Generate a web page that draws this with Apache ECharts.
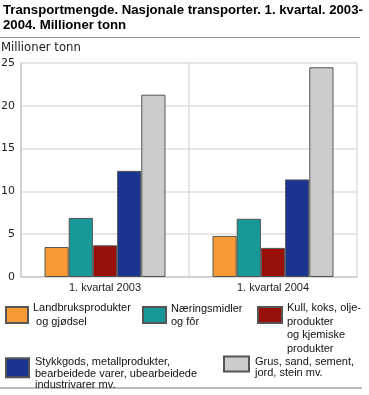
<!DOCTYPE html>
<html><head><meta charset="utf-8">
<script src="https://cdn.jsdelivr.net/npm/echarts@6/dist/echarts.min.js"></script>
<style>html,body{margin:0;padding:0;background:#fff}#c{width:369px;height:395px}</style>
</head><body><div id="c"></div>
<script>
const categories = ['1. kvartal 2003', '1. kvartal 2004'];
const seriesNames = ['Landbruksprodukter\n og gjødsel', 'Næringsmidler\nog fôr', 'Kull, koks, olje-\nprodukter\nog kjemiske\nprodukter', 'Stykkgods, metallprodukter,\nbearbeidede varer, ubearbeidede\nindustrivarer mv.', 'Grus, sand, sement,\njord, stein mv.'];
const landbruk = [3.5, 4.8];
const naering = [6.9, 6.8];
const kull = [3.7, 3.4];
const stykkgods = [12.4, 11.4];
const grus = [21.3, 24.5];
const yTicks = [0, 5, 10, 15, 20, 25];
const colors = ['#F79A35', '#19989A', '#990F0A', '#1A3490', '#CCCCCC'];

const values = [landbruk, naering, kull, stykkgods, grus];
const font = 'Liberation Sans';
// shift: extra space above text (px) so text sits lower than icon centre
const legendCfg = [
  {left: 5, top: 301, w: 22, h: 16, lh: 14, padL: 0, shift: 0},
  {left: 142, top: 302, w: 23, h: 16, lh: 13, padL: 0, shift: 0},
  {left: 257, top: 274.5, w: 24, h: 16, lh: 13.5, padL: 0, shift: 27},
  {left: 5, top: 344.5, w: 23, h: 19, lh: 11.7, padL: 1, shift: 11.6},
  {left: 223, top: 348.8, w: 25, h: 15, lh: 11.7, padL: 1, shift: 7}
];
const chart = echarts.init(document.getElementById('c'));
chart.setOption({
  animation: false,
  textStyle: {fontFamily: font},
  title: {
    text: 'Transportmengde. Nasjonale transporter. 1. kvartal. 2003-\n2004. Millioner tonn',
    left: 3, top: 3, padding: 0,
    textStyle: {fontFamily: font, fontSize: 13.2, fontWeight: 'bold', color: '#000', lineHeight: 15}
  },
  graphic: [
    {type: 'line', shape: {x1: 0, y1: 37.5, x2: 360, y2: 37.5}, style: {stroke: '#999', lineWidth: 1}},
    {type: 'line', shape: {x1: 0, y1: 388, x2: 362, y2: 388}, style: {stroke: '#bbb', lineWidth: 2}},
    {type: 'text', left: 1, top: 42, style: {text: 'Millioner tonn', font: '11.7px DejaVu Sans', fill: '#222'}}
  ],
  legend: seriesNames.map((n, i) => {
    const c = legendCfg[i];
    const rich = {
      s: {lineHeight: c.shift || 1, fontSize: 1},
      t: {fontFamily: font, fontSize: 11, color: '#111', lineHeight: c.lh, padding: [0, 0, 0, c.padL]}
    };
    return {
      data: [n], left: c.left, top: c.top, padding: 0,
      itemWidth: c.w, itemHeight: c.h, itemGap: 0, selectedMode: false,
      icon: 'rect',
      formatter: name => {
        const lines = name.split('\n').map(l => '{t|' + l + '}');
        return (c.shift ? '{s| }\n' : '') + lines.join('\n');
      },
      textStyle: {fontFamily: font, fontSize: 11, color: '#111', lineHeight: c.lh, rich: rich}
    };
  }),
  grid: {left: 21, right: 12, top: 63, bottom: 118, outerBoundsMode: 'none'},
  xAxis: {
    type: 'category', data: categories,
    axisLine: {lineStyle: {color: '#ccc', width: 1.5}},
    axisTick: {show: false},
    axisLabel: {fontFamily: font, fontSize: 11, color: '#222', margin: 5},
    splitLine: {show: true, lineStyle: {color: '#dedede', width: 1.5}}
  },
  yAxis: {
    type: 'value', min: 0, max: 25, interval: 5,
    axisLine: {show: true, lineStyle: {color: '#ccc', width: 1.5}},
    axisTick: {show: false},
    axisLabel: {fontFamily: 'DejaVu Sans', fontSize: 11, color: '#222', margin: 6,
      formatter: v => yTicks.includes(v) ? String(v) : ''},
    splitLine: {lineStyle: {color: '#dedede', width: 1.5}}
  },
  series: seriesNames.map((n, i) => ({
    name: n, type: 'bar', data: values[i],
    barGap: '0%', barCategoryGap: '28%',
    itemStyle: {color: colors[i], borderColor: '#555', borderWidth: 1}
  }))
});
</script></body></html>
